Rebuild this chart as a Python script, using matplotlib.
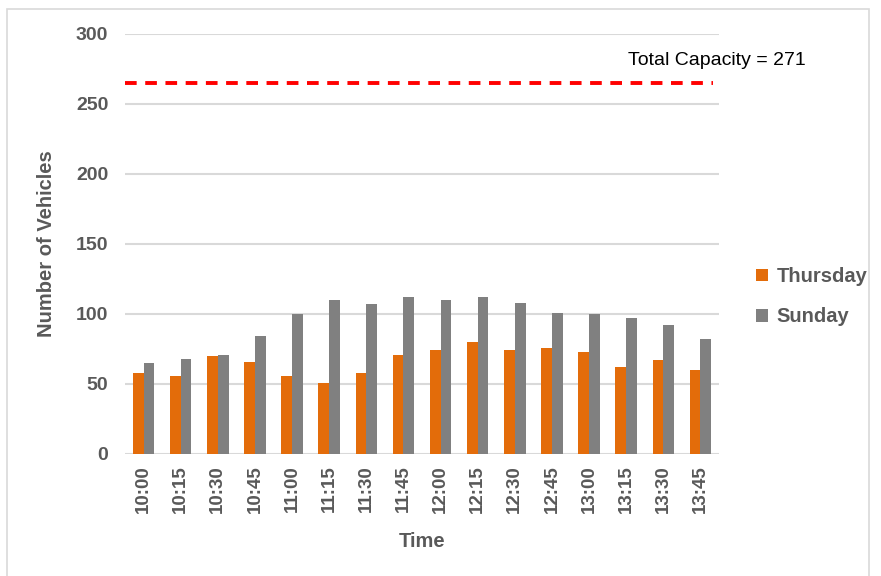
import matplotlib
matplotlib.use("Agg")
import matplotlib.pyplot as plt
import numpy as np
from matplotlib.patches import Rectangle

plt.rcParams["font.family"] = ["Liberation Sans", "DejaVu Sans"]

times = ["10:00", "10:15", "10:30", "10:45", "11:00", "11:15", "11:30", "11:45",
         "12:00", "12:15", "12:30", "12:45", "13:00", "13:15", "13:30", "13:45"]
thursday = [58, 56, 70, 66, 56, 51, 58, 71, 74, 80, 74, 76, 73, 62, 67, 60]
sunday = [65, 68, 71, 84, 100, 110, 107, 112, 110, 112, 108, 101, 100, 97, 92, 82]
capacity_line = 265
capacity_label = "Total Capacity = 271"
yticks = [0, 50, 100, 150, 200, 250, 300]

W, H = 881, 576
fig = plt.figure(figsize=(W / 100, H / 100), dpi=100)
ax = fig.add_axes([125 / W, 1 - 454 / H, (719 - 125) / W, (454 - 34) / H])

text_col = "#595959"
x = np.arange(len(times))
bw = 0.29
ax.bar(x - bw / 2, thursday, bw, color="#E36C0A", label="Thursday", zorder=3)
ax.bar(x + bw / 2, sunday, bw, color="#808080", label="Sunday", zorder=3)

ax.plot([-0.5, len(times) - 0.65], [capacity_line, capacity_line], color="#FF0000",
        lw=2.8, dashes=(3, 2.2), zorder=4)
ax.text(13.05, 281, capacity_label, fontsize=14, color="black", va="center",
        ha="left", clip_on=False)

ax.set_xlim(-0.5, len(times) - 0.5)
ax.set_ylim(0, 300)
ax.set_yticks(yticks)
ax.set_xticks(x)
ax.set_xticklabels(times, rotation=90, fontsize=13.5, fontweight="bold", color=text_col)
ax.set_yticklabels([str(v) for v in yticks], fontsize=14, fontweight="bold", color=text_col)
ax.tick_params(length=0, pad=12)
ax.tick_params(axis="x", pad=8)
ax.grid(axis="y", color="#D9D9D9", lw=1.5, zorder=0)
for s in ax.spines.values():
    s.set_visible(False)

ax.set_xlabel("Time", fontsize=14.5, fontweight="bold", color=text_col, labelpad=14)
ax.set_ylabel("Number of Vehicles", fontsize=14.5, fontweight="bold", color=text_col, labelpad=14)

leg = ax.legend(loc="upper left", bbox_to_anchor=(738 / W, 1 - 249 / H),
                bbox_transform=fig.transFigure, frameon=False, fontsize=14.5,
                handlelength=0.6, handleheight=0.6, handletextpad=0.4, labelspacing=1.05)
for t in leg.get_texts():
    t.set_color(text_col)
    t.set_fontweight("bold")

fig.patches.append(Rectangle((7 / W, -0.01), (869 - 7) / W, 1 - 9 / H + 0.01,
                             transform=fig.transFigure, fill=False,
                             edgecolor="#D9D9D9", lw=1.2))

fig.savefig("out.png", dpi=100)
